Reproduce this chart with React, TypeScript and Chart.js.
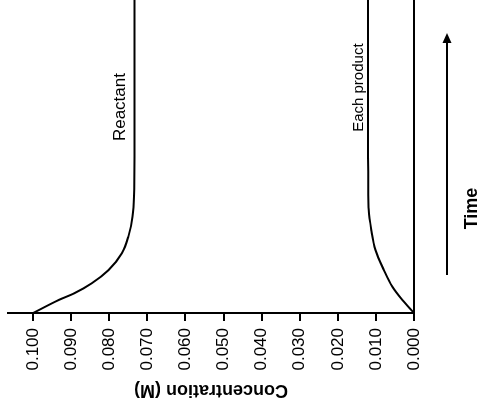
import React, { useEffect, useRef } from "react";
import { Chart, registerables } from "chart.js";

Chart.register(...registerables);

// Time (arbitrary units, 0..10) and concentration (M)
const timeReactant = [0, 0.42, 0.63, 0.95, 1.37, 1.91, 2.44, 3.08, 3.72, 5, 10];
const concReactant = [0.1, 0.0932, 0.0892, 0.0846, 0.0802, 0.0767, 0.075, 0.0739, 0.0735, 0.0734, 0.0734];
const timeProduct = [0, 0.42, 0.84, 1.37, 2.01, 2.65, 3.29, 3.93, 5, 10];
const concProduct = [0, 0.0031, 0.0057, 0.0079, 0.0101, 0.0112, 0.0119, 0.012, 0.0121, 0.0121];
const concTicks = [0, 0.01, 0.02, 0.03, 0.04, 0.05, 0.06, 0.07, 0.08, 0.09, 0.1];
const seriesLabels = ["Reactant", "Each product"];
const labelTimes = [6.58, 7.2];
const yTitle = "Concentration (M)";
const xTitle = "Time";
const timeMax = 10;
const concMax = 0.1066;

const FONT = "'Liberation Sans', Arial, Helvetica, sans-serif";

const annotate = {
  id: "annotate",
  afterDraw(chart: any) {
    const { ctx, chartArea: a, scales } = chart;
    const xs = scales.x;
    const ys = scales.y;
    ctx.save();
    ctx.fillStyle = "#000";
    ctx.strokeStyle = "#000";
    ctx.textAlign = "center";
    ctx.textBaseline = "alphabetic";
    const lastR = concReactant[concReactant.length - 1];
    const lastP = concProduct[concProduct.length - 1];
    ctx.font = `17px ${FONT}`;
    ctx.fillText(seriesLabels[0], xs.getPixelForValue(labelTimes[0]), ys.getPixelForValue(lastR) - 9);
    ctx.font = `15px ${FONT}`;
    ctx.fillText(seriesLabels[1], xs.getPixelForValue(labelTimes[1]), ys.getPixelForValue(lastP) - 5);
    // time arrow
    const ay = a.bottom + 33;
    const x0 = a.left + 38;
    const x1 = a.right - 33;
    ctx.lineWidth = 2;
    ctx.beginPath();
    ctx.moveTo(x0, ay);
    ctx.lineTo(x1 - 8, ay);
    ctx.stroke();
    ctx.beginPath();
    ctx.moveTo(x1, ay);
    ctx.lineTo(x1 - 10, ay - 4.5);
    ctx.lineTo(x1 - 10, ay + 4.5);
    ctx.closePath();
    ctx.fill();
    ctx.font = `bold 18px ${FONT}`;
    ctx.fillText(xTitle, a.left + 104.5, a.bottom + 63);
    ctx.restore();
  },
};

export default function App() {
  const ref = useRef<HTMLCanvasElement | null>(null);
  useEffect(() => {
    if (!ref.current) return;
    const chart = new Chart(ref.current, {
      type: "scatter",
      data: {
        datasets: [
          {
            label: seriesLabels[0],
            data: timeReactant.map((t, i) => ({ x: t, y: concReactant[i] })),
            showLine: true,
            borderColor: "#000",
            borderWidth: 2,
            pointRadius: 0,
            cubicInterpolationMode: "monotone",
          },
          {
            label: seriesLabels[1],
            data: timeProduct.map((t, i) => ({ x: t, y: concProduct[i] })),
            showLine: true,
            borderColor: "#000",
            borderWidth: 2,
            pointRadius: 0,
            cubicInterpolationMode: "monotone",
          },
        ],
      },
      options: {
        responsive: false,
        animation: false,
        devicePixelRatio: 1,
        layout: { padding: 0 },
        plugins: { legend: { display: false }, tooltip: { enabled: false } },
        scales: {
          x: {
            type: "linear",
            min: 0,
            max: timeMax,
            ticks: { display: false },
            grid: { display: false },
            border: { display: true, color: "#000", width: 2 },
            afterFit: (s: any) => {
              s.height = 64;
              s.paddingLeft = 0;
              s.paddingRight = 0;
            },
          },
          y: {
            type: "linear",
            min: 0,
            max: concMax,
            afterBuildTicks: (s: any) => {
              s.ticks = concTicks.map((v) => ({ value: v }));
            },
            afterFit: (s: any) => {
              s.width = 89;
              s.paddingTop = 8;
              s.paddingBottom = 0;
            },
            ticks: {
              color: "#000",
              padding: 7,
              font: { family: FONT, size: 17 },
              callback: (v: any) => Number(v).toFixed(3),
            },
            grid: {
              display: true,
              drawOnChartArea: false,
              drawTicks: true,
              tickLength: 8,
              color: "#000",
              lineWidth: 2,
            },
            border: { display: true, color: "#000", width: 2 },
            title: {
              display: true,
              text: yTitle,
              color: "#000",
              font: { family: FONT, size: 18, weight: "bold" },
              padding: { top: 1, bottom: 0 },
            },
          },
        },
      },
      plugins: [annotate],
    } as any);
    return () => chart.destroy();
  }, []);

  return (
    <div
      style={{
        position: "fixed",
        left: 0,
        top: 0,
        width: 478,
        height: 402,
        overflow: "hidden",
        background: "#fff",
      }}
    >
      <canvas
        ref={ref}
        width={402}
        height={478}
        style={{
          position: "absolute",
          left: 38,
          top: -38,
          width: 402,
          height: 478,
          transform: "rotate(-90deg)",
        }}
      />
    </div>
  );
}
